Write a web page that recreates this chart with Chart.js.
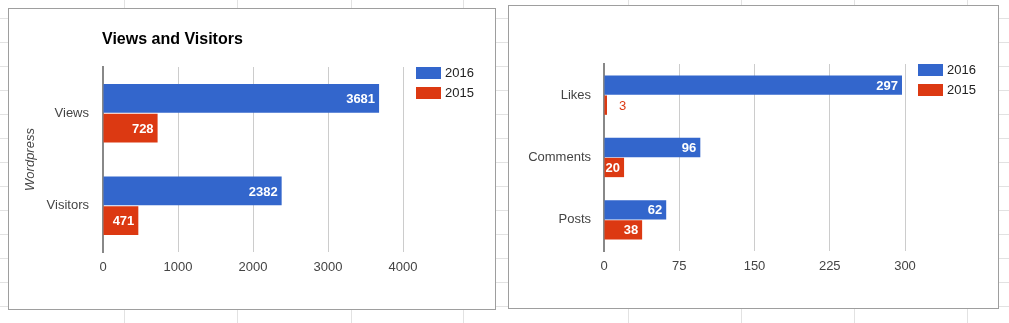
<!DOCTYPE html>
<html>
<head>
<meta charset="utf-8">
<script src="https://cdn.jsdelivr.net/npm/chart.js@4"></script>
<style>
  html, body {
    margin: 0;
    padding: 0;
  }
  body {
    width: 1009px;
    height: 323px;
    position: relative;
    overflow: hidden;
    background-color: #fff;
    background-image: linear-gradient(#e2e2e2 1px, transparent 1px);
    background-size: 100% 24px;
    background-position: 0 18px;
  }
  .sheet-col {
    position: absolute;
    top: 0;
    width: 1px;
    height: 323px;
    background: #e2e2e2;
  }
  .card {
    position: absolute;
    background: #fff;
    border: 1px solid #9e9e9e;
  }
  #views-card {
    left: 8px;
    top: 8px;
    width: 486px;
    height: 300px;
  }
  #social-card {
    left: 508px;
    top: 5px;
    width: 489px;
    height: 302px;
  }
  canvas {
    display: block;
  }
</style>
</head>
<body>
<div class="card" id="views-card"><canvas id="views-chart" width="486" height="300"></canvas></div>
<div class="card" id="social-card"><canvas id="social-chart" width="489" height="302"></canvas></div>
<script>
// Data
const seriesLabels = ["2016", "2015"];
const seriesColors = ["#3366cc", "#dc3912"];

const viewsCategories = ["Views", "Visitors"];
const views2016 = [3681, 2382];
const views2015 = [728, 471];
const viewsTicks = [0, 1000, 2000, 3000, 4000];

const socialCategories = ["Likes", "Comments", "Posts"];
const social2016 = [297, 96, 62];
const social2015 = [3, 20, 38];
const socialTicks = [0, 75, 150, 225, 300];

// Spreadsheet column lines behind the charts
const sheetColumns = [124, 237, 351, 463, 628, 741, 854, 967];
for (const x of sheetColumns) {
  const line = document.createElement("div");
  line.className = "sheet-col";
  line.style.left = x + "px";
  document.body.insertBefore(line, document.body.firstChild);
}

const FONT = "Arial, 'Liberation Sans', sans-serif";

// Plugins
const valueLabels = {
  id: "valueLabels",
  afterDatasetsDraw(chart) {
    const ctx = chart.ctx;
    ctx.save();
    ctx.textBaseline = "middle";
    chart.data.datasets.forEach((dataset, i) => {
      const meta = chart.getDatasetMeta(i);
      meta.data.forEach((bar, j) => {
        const text = String(dataset.data[j]);
        ctx.font = `bold 13px ${FONT}`;
        const textWidth = ctx.measureText(text).width;
        const barWidth = bar.x - bar.base;
        if (textWidth + 4 <= barWidth) {
          ctx.fillStyle = "#ffffff";
          ctx.textAlign = "right";
          ctx.fillText(text, bar.x - 4, bar.y + 1);
        } else {
          ctx.font = `13px ${FONT}`;
          ctx.fillStyle = dataset.backgroundColor;
          ctx.textAlign = "left";
          ctx.fillText(text, bar.x + 12, bar.y + 1);
        }
      });
    });
    ctx.restore();
  },
};

const sideLegend = {
  id: "sideLegend",
  afterDraw(chart) {
    const ctx = chart.ctx;
    const area = chart.chartArea;
    const x = area.right + 13;
    ctx.save();
    ctx.font = `13px ${FONT}`;
    ctx.textBaseline = "middle";
    ctx.textAlign = "left";
    chart.data.datasets.forEach((dataset, i) => {
      const top = area.top + i * 20;
      ctx.fillStyle = dataset.backgroundColor;
      ctx.fillRect(x, top, 25, 12);
      ctx.fillStyle = "#222222";
      ctx.fillText(dataset.label, x + 29, top + 6.5);
    });
    ctx.restore();
  },
};

const leftTitle = {
  id: "leftTitle",
  afterDraw(chart, args, opts) {
    if (!opts.text) {
      return;
    }
    const ctx = chart.ctx;
    ctx.save();
    ctx.font = `bold 16px ${FONT}`;
    ctx.fillStyle = "#000000";
    ctx.textAlign = "left";
    ctx.textBaseline = "alphabetic";
    ctx.fillText(opts.text, chart.chartArea.left - 1, 35);
    ctx.restore();
  },
};

function createChart(canvasId, config) {
  const ticks = config.ticks;
  return new Chart(document.getElementById(canvasId), {
    type: "bar",
    data: {
      labels: config.categories,
      datasets: config.series.map((values, i) => ({
        label: seriesLabels[i],
        data: values,
        backgroundColor: seriesColors[i],
        borderWidth: 0,
        categoryPercentage: 0.64,
        barPercentage: 0.97,
      })),
    },
    options: {
      indexAxis: "y",
      responsive: false,
      animation: false,
      layout: {
        padding: { left: 0, top: 58, right: config.rightPad, bottom: 0 },
      },
      plugins: {
        legend: { display: false },
        tooltip: { enabled: false },
        leftTitle: { text: config.title },
      },
      scales: {
        x: {
          min: ticks[0],
          max: ticks[ticks.length - 1],
          ticks: {
            stepSize: ticks[1] - ticks[0],
            color: "#444444",
            font: { family: FONT, size: 13 },
            padding: 8,
            callback: (value) => String(value),
          },
          grid: {
            color: (c) => (c.tick && c.tick.value === 0 ? "transparent" : "#cccccc"),
            lineWidth: 1,
            drawTicks: false,
          },
          border: { display: false },
          afterFit(scale) {
            scale.height = 57;
          },
        },
        y: {
          ticks: {
            color: "#444444",
            font: { family: FONT, size: 13 },
            padding: config.labelPad,
          },
          grid: { display: false, drawTicks: false },
          border: { display: true, color: "#888888", width: 2 },
          title: {
            display: !!config.axisTitle,
            text: config.axisTitle,
            color: "#444444",
            font: { family: FONT, size: 13, style: "italic" },
            padding: { top: 14, bottom: 0 },
          },
          afterFit(scale) {
            scale.width = config.axisWidth;
          },
        },
      },
    },
    plugins: [valueLabels, sideLegend, leftTitle],
  });
}

createChart("views-chart", {
  categories: viewsCategories,
  series: [views2016, views2015],
  ticks: viewsTicks,
  title: "Views and Visitors",
  axisTitle: "Wordpress",
  axisWidth: 94,
  rightPad: 92,
  labelPad: 14,
});

createChart("social-chart", {
  categories: socialCategories,
  series: [social2016, social2015],
  ticks: socialTicks,
  title: "",
  axisTitle: "",
  axisWidth: 95,
  rightPad: 93,
  labelPad: 13,
});
</script>
</body>
</html>
